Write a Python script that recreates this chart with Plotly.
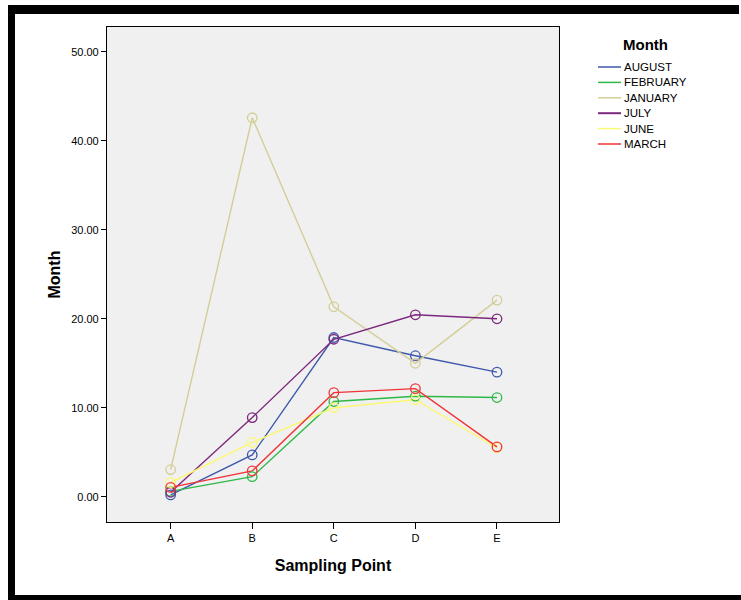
import plotly.graph_objects as go

points = ["A", "B", "C", "D", "E"]
series_names = ["AUGUST", "FEBRUARY", "JANUARY", "JULY", "JUNE", "MARCH"]
august = [0.2, 4.7, 17.9, 15.85, 14.0]
february = [0.6, 2.25, 10.7, 11.3, 11.15]
january = [3.05, 42.6, 21.35, 15.0, 22.1]
july = [0.5, 8.9, 17.7, 20.45, 20.0]
june = [1.6, 6.1, 10.0, 10.9, 5.5]
march = [1.05, 2.9, 11.7, 12.15, 5.6]
series_values = [august, february, january, july, june, march]
colors = ["#3E58AC", "#2EB848", "#D3CE97", "#7C287D", "#FBF873", "#EF3338"]
y_ticks = [0, 10, 20, 30, 40, 50]
y_tick_labels = ["0.00", "10.00", "20.00", "30.00", "40.00", "50.00"]
legend_title = "Month"

fig = go.Figure()
for name, vals, col in zip(series_names, series_values, colors):
    fig.add_trace(go.Scatter(x=points, y=vals, mode="lines", name=name, showlegend=False,
                             line=dict(color=col, width=1.4)))
for name, vals, col in zip(series_names, series_values, colors):
    fig.add_trace(go.Scatter(x=points, y=vals, mode="markers", name=name, showlegend=False,
                             marker=dict(symbol="circle-open", size=9.5, color=col,
                                         line=dict(width=1.3, color=col))))

L, R, T, B = 107, 182, 27, 78
W, H = 741, 600
pw, ph = W - L - R, H - T - B

def px(x):
    return (x - L) / pw

def py(y):
    return (H - B - y) / ph

shapes = [
    dict(type="rect", xref="paper", yref="paper", x0=px(8), x1=px(15), y0=py(600), y1=py(5),
         fillcolor="black", line=dict(width=0), layer="above"),
    dict(type="rect", xref="paper", yref="paper", x0=px(8), x1=px(739), y0=py(14), y1=py(5),
         fillcolor="black", line=dict(width=0), layer="above"),
    dict(type="rect", xref="paper", yref="paper", x0=px(8), x1=px(741), y0=py(600), y1=py(595),
         fillcolor="black", line=dict(width=0), layer="above"),
]
annotations = [
    dict(text="<b>" + legend_title + "</b>", xref="paper", yref="paper", x=px(645), y=py(44),
         xanchor="center", yanchor="middle", showarrow=False,
         font=dict(size=15, family="Liberation Sans, Arial, sans-serif", color="black")),
]
item_y0, item_dy = 67, 15.4
for i, (name, col) in enumerate(zip(series_names, colors)):
    yy = item_y0 + i * item_dy
    shapes.append(dict(type="line", xref="paper", yref="paper", x0=px(598), x1=px(621),
                       y0=py(yy), y1=py(yy), line=dict(color=col, width=2 if name == "JULY" else 1.5)))
    annotations.append(dict(text=name, xref="paper", yref="paper", x=px(622), y=py(yy),
                            xanchor="left", yanchor="middle", showarrow=False,
                            font=dict(size=11.5, family="Liberation Sans, Arial, sans-serif",
                                      color="black")))

fig.update_layout(
    width=W, height=H,
    margin=dict(l=L, r=R, t=T, b=B, pad=0),
    paper_bgcolor="white",
    plot_bgcolor="#F0F0F0",
    font=dict(family="Liberation Sans, Arial, sans-serif", size=11, color="black"),
    shapes=shapes,
    annotations=annotations,
    showlegend=False,
    xaxis=dict(
        type="category", range=[-0.78, 4.76],
        showline=True, linecolor="black", linewidth=1.2, mirror=True,
        ticks="outside", ticklen=6, tickcolor="black", tickwidth=1,
        showgrid=False, zeroline=False,
        title=dict(text="<b>Sampling Point</b>", font=dict(size=16), standoff=16),
        tickfont=dict(size=11),
    ),
    yaxis=dict(
        range=[-2.84, 52.8],
        tickvals=y_ticks, ticktext=y_tick_labels,
        showline=True, linecolor="black", linewidth=1.2, mirror=True,
        ticks="outside", ticklen=5, tickcolor="black", tickwidth=1,
        showgrid=False, zeroline=False,
        title=dict(text="<b>Month</b>", font=dict(size=16), standoff=6),
        tickfont=dict(size=11),
    ),
)

fig.write_html("out.html", config={"displayModeBar": False},
               post_script="document.body.style.margin='0';document.body.style.overflow='hidden';")
